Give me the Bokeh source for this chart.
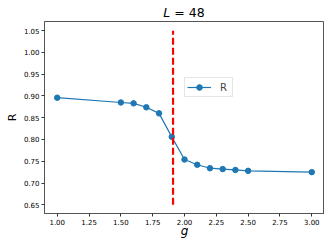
from bokeh.plotting import figure
from bokeh.models import Legend, LegendItem, Range1d, FixedTicker, CustomJSTickFormatter, Div
from bokeh.layouts import column
from bokeh.embed import file_html
from bokeh.resources import INLINE

g_values = [1.0, 1.5, 1.6, 1.7, 1.8, 1.9, 2.0, 2.1, 2.2, 2.3, 2.4, 2.5, 3.0]
r_values = [0.896, 0.885, 0.883, 0.874, 0.860, 0.806, 0.754, 0.742, 0.734, 0.732, 0.730, 0.728, 0.725]
g_critical = 1.91
critical_span = [0.65, 1.05]
x_ticks = [1.0, 1.25, 1.5, 1.75, 2.0, 2.25, 2.5, 2.75, 3.0]
y_ticks = [0.65, 0.70, 0.75, 0.80, 0.85, 0.90, 0.95, 1.00, 1.05]

p = figure(width=324, height=220, output_backend="svg", toolbar_location=None,
           x_range=Range1d(0.9, 3.1), y_range=Range1d(0.63, 1.071),
           min_border_left=44, min_border_right=0, min_border_top=0, min_border_bottom=28)
p.xgrid.visible = False
p.ygrid.visible = False
p.background_fill_color = "white"
p.outline_line_color = "#555555"
p.outline_line_width = 1

blue = "#1f77b4"
line_r = p.line(g_values, r_values, line_color=blue, line_width=1.2)
pts_r = p.scatter(g_values, r_values, size=5.5, fill_color=blue, line_color=blue)
# legend-only errorbar glyph (placed outside the visible range)
err_r = p.scatter(x=[g_values[0]], y=[-1.0], marker="cross", size=11, line_color=blue, line_width=1)
p.line([g_critical, g_critical], critical_span, line_color="#ff0000", line_width=2.2, line_dash="7 3")

for ax in (p.xaxis[0], p.yaxis[0]):
    ax.axis_line_color = "#555555"
    ax.major_tick_line_color = "#333333"
    ax.minor_tick_line_color = None
    ax.major_tick_in = 0
    ax.major_tick_out = 3
    ax.major_label_text_font = "DejaVu Sans"
    ax.major_label_text_font_size = "7px"
    ax.major_label_text_color = "black"
    ax.major_label_standoff = 2
    ax.axis_label_text_font = "DejaVu Sans"
    ax.axis_label_text_font_style = "normal"
    ax.axis_label_text_color = "black"

p.xaxis.ticker = FixedTicker(ticks=x_ticks)
p.yaxis.ticker = FixedTicker(ticks=y_ticks)
p.xaxis.formatter = CustomJSTickFormatter(code="return tick.toFixed(2);")
p.yaxis.formatter = CustomJSTickFormatter(code="return tick.toFixed(2);")

p.xaxis.axis_label = "g"
p.xaxis.axis_label_text_font_style = "italic"
p.xaxis.axis_label_text_font_size = "12px"
p.xaxis.axis_label_standoff = -4
p.yaxis.axis_label = "R"
p.yaxis.axis_label_text_font_size = "11px"
p.yaxis.axis_label_standoff = 2

legend = Legend(items=[LegendItem(label="R", renderers=[line_r, pts_r, err_r])],
                location=(140, 116), glyph_width=24, glyph_height=14, padding=2,
                label_standoff=9, label_width=10, spacing=0, margin=0,
                label_text_font="DejaVu Sans", label_text_font_size="10px",
                border_line_color="#cccccc", border_line_width=1,
                background_fill_alpha=0.9)
p.add_layout(legend)

title = Div(text="<i>L</i> = 48", width=280, height=21, margin=(0, 0, 0, 44),
            styles={"text-align": "center", "font-family": "DejaVu Sans",
                    "font-size": "12.5px", "line-height": "26px", "color": "black",
                    "width": "280px", "overflow": "visible"})

layout = column(title, p, spacing=0)
open("out.html", "w").write(file_html(layout, INLINE))
